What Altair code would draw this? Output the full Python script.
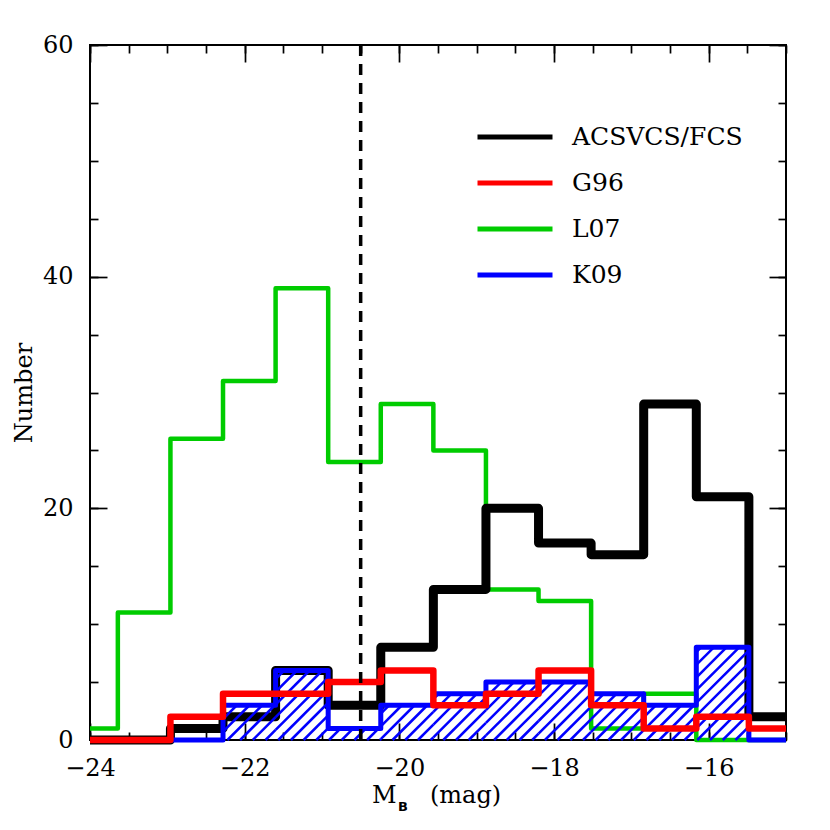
import altair as alt
import pandas as pd
import numpy as np

# ---------------- data ----------------
edges = [-24.0, -23.64, -22.96, -22.28, -21.60, -20.92, -20.24, -19.56,
         -18.88, -18.20, -17.52, -16.84, -16.16, -15.48, -15.0]
series_names = ["ACSVCS/FCS", "G96", "L07", "K09"]
series_colors = ["#000000", "#ff0000", "#00cc00", "#0000ff"]
acs = [0, 0, 1, 2, 6, 3, 8, 13, 20, 17, 16, 29, 21, 2]
g96 = [0, 0, 2, 4, 4, 5, 6, 3, 4, 6, 3, 1, 2, 1]
l07 = [1, 11, 26, 31, 39, 24, 29, 25, 13, 12, 1, 4, 0, 0]
k09 = [0, 0, 0, 3, 6, 1, 3, 4, 5, 5, 4, 3, 8, 0]
divider = [-20.5]

x_major = [-24, -22, -20, -18, -16]
x_minor = list(np.arange(-24.0, -14.99, 0.5))
y_major = [0, 20, 40, 60]
y_minor = list(range(0, 61, 5))

FONT = "DejaVu Serif"
W, H = 696, 695
X_DOM, Y_DOM = [-24, -15], [0, 60]

# ---------------- tables ----------------
counts = {"ACSVCS/FCS": acs, "G96": g96, "L07": l07, "K09": k09}
rows = []
for name, c in counts.items():
    for j in range(len(c)):
        rows.append({"series": name, "x": edges[j], "n": c[j], "o": j})
    rows.append({"series": name, "x": edges[-1], "n": c[-1], "o": len(c)})
steps = pd.DataFrame(rows)

# hatch segments for K09 (45 degrees in pixel space)
k = (W / (X_DOM[1] - X_DOM[0])) / (H / (Y_DOM[1] - Y_DOM[0]))
spacing = 12.7 / (W / (X_DOM[1] - X_DOM[0]))
hatch = []
for c0 in np.arange(-26.0, -14.0, spacing):
    for j, h in enumerate(k09):
        if h <= 0:
            continue
        x0, x1 = edges[j], edges[j + 1]
        xa = max(x0, c0)
        xb = min(x1, c0 + h / k)
        if xb > xa:
            hatch.append({"x": xa, "y": k * (xa - c0), "x2": xb, "y2": k * (xb - c0)})
hatch = pd.DataFrame(hatch)

xs = alt.Scale(domain=X_DOM, nice=False, zero=False)
ys = alt.Scale(domain=Y_DOM, nice=False, zero=False)
cs = alt.Scale(domain=series_names, range=series_colors)

common = dict(domain=False, grid=False, tickColor="black", tickWidth=1.7,
              labelFlush=False, labelOverlap=False)


def ax_major(orient, values, labels, **kw):
    return alt.Axis(orient=orient, values=values, offset=-17, tickSize=17,
                    labels=labels, title=None, **common, **kw)


def ax_minor(orient, values):
    return alt.Axis(orient=orient, values=values, offset=-8, tickSize=8,
                    labels=False, title=None, **common)


label_kw = dict(labelFont=FONT, labelFontSize=24, labelColor="black", format="d")

legend = alt.Legend(orient="none", legendX=410, legendY=77, title=None,
                    symbolType="M-3,0H3", symbolSize=625, symbolStrokeWidth=5,
                    labelFont=FONT, labelFontSize=25, labelColor="black",
                    labelLimit=0, labelOffset=42, rowPadding=18, padding=0)


def step_layer(name, width, xaxis, yaxis):
    return alt.Chart(steps).transform_filter(alt.datum.series == name).mark_line(
        interpolate="step-after", strokeWidth=width, strokeJoin="round", strokeCap="butt"
    ).encode(
        x=alt.X("x:Q", scale=xs, axis=xaxis),
        y=alt.Y("n:Q", scale=ys, axis=yaxis),
        color=alt.Color("series:N", scale=cs, legend=legend),
        order="o:Q",
    )


green = step_layer(
    "L07", 4.5,
    ax_major("bottom", x_major, True, labelPadding=16, **label_kw),
    alt.Axis(orient="left", values=y_major, offset=-17, tickSize=17, labels=True,
             labelPadding=17, title="Number", titleFont=FONT, titleFontSize=24,
             titleFontWeight="normal", titleColor="black", titlePadding=6,
             **common, **label_kw),
)
black = step_layer("ACSVCS/FCS", 9, ax_minor("bottom", x_minor), ax_minor("left", y_minor))

hatch_layer = alt.Chart(hatch).mark_rule(color="#0000ff", strokeWidth=2.5, strokeCap="butt").encode(
    x=alt.X("x:Q", scale=xs, axis=ax_major("top", x_major, False)),
    y=alt.Y("y:Q", scale=ys, axis=ax_major("right", y_major, False)),
    x2="x2:Q",
    y2="y2:Q",
)
blue = step_layer("K09", 5, ax_minor("top", x_minor), ax_minor("right", y_minor))
red = step_layer("G96", 6.5, None, None)

dash = alt.Chart(pd.DataFrame({"x": divider})).mark_rule(
    color="black", strokeWidth=3.5, strokeDash=[11, 8]
).encode(x=alt.X("x:Q", scale=xs, axis=None))


def txt(s, x, y, size, font=FONT, weight="normal"):
    return alt.Chart(pd.DataFrame({"t": [s]})).mark_text(
        align="left", baseline="alphabetic", font=font, fontSize=size,
        fontWeight=weight, color="black"
    ).encode(text="t:N", x=alt.value(x), y=alt.value(y))


t1 = txt("M", 282, 758, 24)
t2 = txt("B", 308, 766, 13, font="DejaVu Sans", weight="bold")
t3 = txt("(mag)", 340, 758, 24)

chart = alt.layer(green, black, hatch_layer, blue, red, dash, t1, t2, t3).resolve_axis(
    x="independent", y="independent"
).resolve_scale(x="shared", y="shared", color="shared").properties(
    width=W, height=H,
    autosize=alt.AutoSizeParams(type="none"),
    padding={"left": 82, "top": 37, "right": 30, "bottom": 80},
    background="white",
).configure_view(stroke="black", strokeWidth=2)

chart.save("out.html", embed_options={"renderer": "svg", "actions": False})
